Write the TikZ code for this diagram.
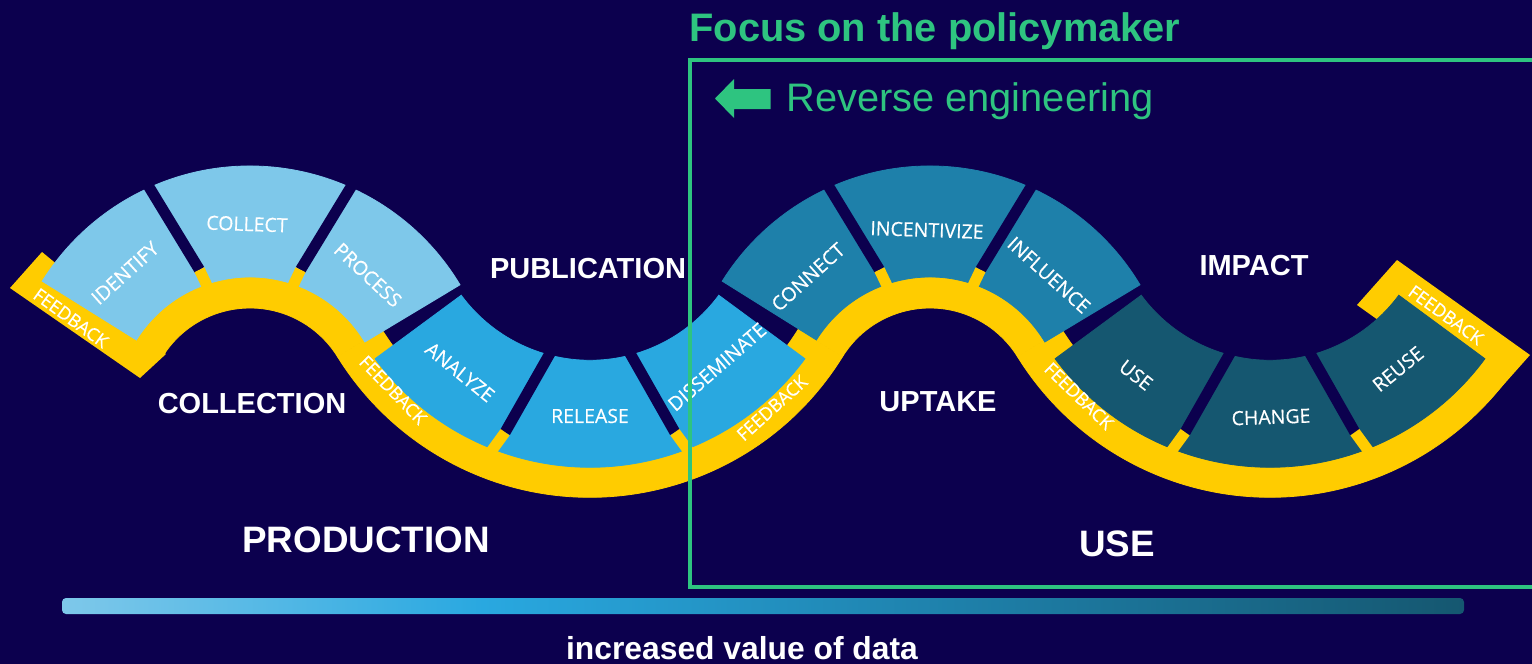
\documentclass[tikz,border=0pt]{standalone}
\usepackage{fontspec}
\setmainfont{Liberation Sans}
\newfontfamily\osans[FakeBold=0.4]{Open Sans}
\usetikzlibrary{calc}
\definecolor{bg}{RGB}{12,0,78}
\definecolor{yel}{RGB}{255,204,0}
\definecolor{grn}{RGB}{46,196,128}
\definecolor{cA}{RGB}{126,200,234}
\definecolor{cB}{RGB}{41,168,224}
\definecolor{cC}{RGB}{30,128,170}
\definecolor{cD}{RGB}{21,87,112}
\pgfdeclarehorizontalshading{valbar}{100bp}{color(0bp)=(cA); color(25bp)=(cA); color(40bp)=(cB); color(57bp)=(cC); color(75bp)=(cD); color(100bp)=(cD)}
\newcommand\annsec[6]{\filldraw[#1, line width=0.4pt] ($(#2)+(#3:#5)$) arc[start angle=#3, end angle=#4, radius=#5] -- ($(#2)+(#4:#6)$) arc[start angle=#4, end angle=#3, radius=#6] -- cycle;}
\newcommand\gapcut[4]{\draw[gapdark] ($(#1)+(#2)$) -- ($(#1)+(#3)$); \draw[gapyel] ($(#1)+(#3)$) -- ($(#1)+(#4)$);}
\begin{document}
\begin{tikzpicture}[x=0.5pt,y=-0.5pt,
  lbl/.style={font=\osans\fontsize{9.75}{10}\selectfont, text=white, inner sep=0},
  fb/.style={font=\osans\fontsize{9}{9}\selectfont, text=white, inner sep=0},
  head/.style={font=\bfseries\fontsize{14.5}{15}\selectfont, text=white, inner sep=0, anchor=base},
  big/.style={font=\bfseries\fontsize{18.4}{19}\selectfont, text=white, inner sep=0, anchor=base},
  gapdark/.style={bg, line width=5.5pt},
  gapyel/.style={yel, line width=5.5pt}]
\useasboundingbox (0,0) rectangle (1532,664);
\fill[bg] (0,0) rectangle (1532,664);
\coordinate (C1) at (250,411);
\coordinate (C2) at (590,200.3);
\coordinate (C3) at (930,411);
\coordinate (C4) at (1270,200.3);
% yellow band (with underlay)
\annsec{yel}{C1}{-147}{-31.79}{103}{150}
\annsec{yel}{C2}{148.21}{31.79}{245}{297}
\annsec{yel}{C3}{-148.21}{-31.79}{103}{150}
\annsec{yel}{C4}{148.21}{34}{245}{297}
% end tabs
\fill[yel] (42,252) -- (10,288) -- (140,378) -- (166,354) -- cycle;
\fill[yel] (1357,305) -- (1397,260) -- (1530,355) -- (1490,400) -- cycle;
% segments
\annsec{cA}{C1}{-148}{-31}{134}{245}
\annsec{cB}{C2}{143.6}{36.4}{160}{267}
\annsec{cC}{C3}{-148}{-31}{134}{245}
\annsec{cD}{C4}{143.6}{36.4}{160}{267}
% gaps
\gapcut{C1}{-114.7:262}{-109.7:150}{-108.7:128}
\gapcut{C1}{-65.3:262}{-70.3:150}{-71.3:128}
\gapcut{C3}{-114.7:262}{-109.7:150}{-108.7:128}
\gapcut{C3}{-65.3:262}{-70.3:150}{-71.3:128}
\gapcut{C2}{103.6:148}{110.1:247}{111.6:272}
\gapcut{C2}{76.4:148}{69.9:247}{68.4:272}
\gapcut{C4}{103.6:148}{110.1:247}{111.6:272}
\gapcut{C4}{76.4:148}{69.9:247}{68.4:272}
% segment labels
\node[lbl, rotate=42] (identify) at (125,273) {IDENTIFY};
\node[lbl, rotate=-2] (collect) at (247,224) {COLLECT};
\node[lbl, rotate=-43] (process) at (368,275) {PROCESS};
\node[lbl, rotate=-39] (analyze) at (460,372) {ANALYZE};
\node[lbl] (release) at (590,416) {RELEASE};
\node[lbl, rotate=41] (disseminate) at (717,367) {DISSEMINATE};
\node[lbl, rotate=42] (connect) at (808,277) {CONNECT};
\node[lbl, rotate=-2] (incentivize) at (927,230) {INCENTIVIZE};
\node[lbl, rotate=-42] (influence) at (1049,275) {INFLUENCE};
\node[lbl, rotate=-38] (use) at (1136,375) {USE};
\node[lbl, rotate=2] (change) at (1271,417) {CHANGE};
\node[lbl, rotate=39] (reuse) at (1398,369) {REUSE};
% feedback labels
\node[fb, rotate=-36] (fb1) at (71,318) {FEEDBACK};
\node[fb, rotate=-46] (fb2) at (393,390) {FEEDBACK};
\node[fb, rotate=42] (fb3) at (772,408) {FEEDBACK};
\node[fb, rotate=-44] (fb4) at (1079,396) {FEEDBACK};
\node[fb, rotate=-36] (fb5) at (1446,315) {FEEDBACK};
% headings
\node[head] (collection) at (252,413) {COLLECTION};
\node[head] (publication) at (588,278) {PUBLICATION};
\node[head] (uptake) at (938,411) {UPTAKE};
\node[head] (impact) at (1254,275) {IMPACT};
\node[big] (production) at (366,552) {PRODUCTION};
\node[big] (usehead) at (1117,556) {USE};
% value bar
\shade[shading=valbar, rounded corners=2pt] (62,598) rectangle (1464,614);
\node[font=\bfseries\fontsize{15.9}{16}\selectfont, text=white, inner sep=0, anchor=base] (value) at (742,659) {increased value of data};
% policymaker focus
\draw[grn, line width=2pt] (1545,59.5) -- (689.5,59.5) -- (689.5,587) -- (1545,587);
\node[font=\bfseries\fontsize{19.9}{20}\selectfont, text=grn, inner sep=0, anchor=base west] (focus) at (689,41) {Focus on the policymaker};
\fill[grn] (715,98.5) -- (734,79) -- (734,89) -- (770.5,89) -- (770.5,109) -- (734,109) -- (734,118) -- cycle;
\node[font=\fontsize{19.9}{20}\selectfont, text=grn, inner sep=0, anchor=base west] (reverse) at (786,111) {Reverse engineering};
\end{tikzpicture}
\end{document}
